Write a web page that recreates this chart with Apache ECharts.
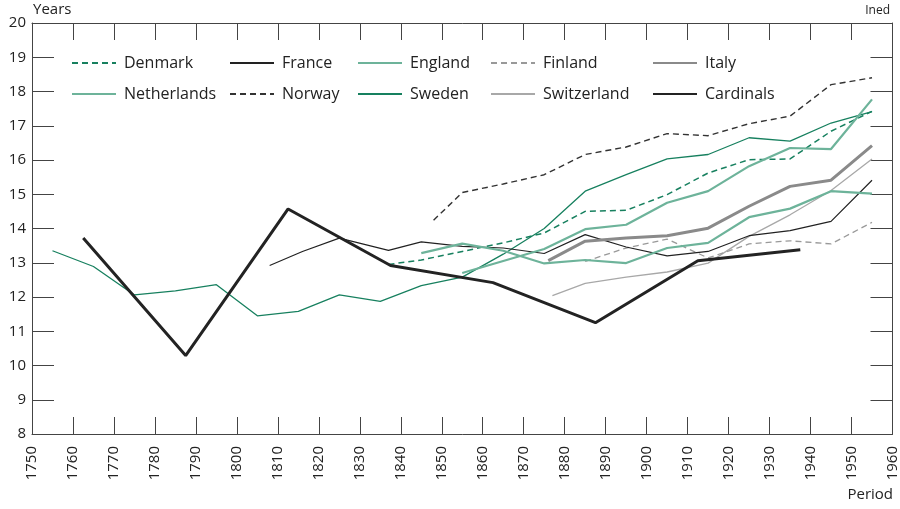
<!doctype html>
<html lang="en">
<head>
    <meta charset="UTF-8">
    <title>Life expectancy</title>
    <script src="https://cdn.jsdelivr.net/npm/echarts@6/dist/echarts.min.js"></script>
    <style>
        html, body { margin: 0; padding: 0; background: #fff; }
    </style>
</head>
<body>
<div id="main" style="width:900px; height:509px;"></div>

<script>
    // data (x = period midpoint, y = years)
    var swedenYears = [1755, 1765, 1775, 1785, 1795, 1805, 1815, 1825, 1835, 1845, 1855, 1865, 1875, 1885, 1895, 1905, 1915, 1925, 1935, 1945, 1955];
    var swedenVals = [13.35, 12.89, 12.06, 12.18, 12.36, 11.45, 11.58, 12.06, 11.87, 12.33, 12.58, 13.25, 14.0, 15.09, 15.57, 16.03, 16.16, 16.65, 16.55, 17.08, 17.41];

    var denmarkYears = [1837, 1845, 1855, 1865, 1875, 1885, 1895, 1905, 1915, 1925, 1935, 1945, 1955];
    var denmarkVals = [12.95, 13.08, 13.33, 13.58, 13.87, 14.50, 14.53, 14.99, 15.62, 16.01, 16.03, 16.84, 17.42];

    var franceYears = [1808, 1816, 1825, 1837, 1845, 1855, 1865, 1875, 1885, 1895, 1905, 1915, 1925, 1935, 1945, 1955];
    var franceVals = [12.92, 13.33, 13.72, 13.36, 13.61, 13.48, 13.43, 13.27, 13.82, 13.46, 13.20, 13.33, 13.79, 13.94, 14.21, 15.41];

    var englandYears = [1845, 1855, 1865, 1875, 1885, 1895, 1905, 1915, 1925, 1935, 1945, 1955];
    var englandVals = [13.28, 13.56, 13.35, 12.98, 13.08, 12.99, 13.43, 13.58, 14.33, 14.58, 15.09, 15.02];

    var netherlandsYears = [1855, 1865, 1875, 1885, 1895, 1905, 1915, 1925, 1935, 1945, 1955];
    var netherlandsVals = [12.70, 13.05, 13.40, 13.98, 14.11, 14.75, 15.09, 15.82, 16.35, 16.32, 17.77];

    var finlandYears = [1885, 1895, 1905, 1915, 1925, 1935, 1945, 1955];
    var finlandVals = [13.04, 13.43, 13.69, 13.14, 13.55, 13.64, 13.55, 14.18];

    var italyYears = [1876, 1885, 1895, 1905, 1915, 1925, 1935, 1945, 1955];
    var italyVals = [13.06, 13.63, 13.72, 13.79, 14.01, 14.65, 15.23, 15.41, 16.42];

    var norwayYears = [1848, 1855, 1865, 1875, 1885, 1895, 1905, 1915, 1925, 1935, 1945, 1955];
    var norwayVals = [14.24, 15.05, 15.30, 15.57, 16.16, 16.38, 16.77, 16.71, 17.06, 17.28, 18.20, 18.40];

    var switzerlandYears = [1877, 1885, 1895, 1905, 1915, 1925, 1935, 1945, 1955];
    var switzerlandVals = [12.04, 12.40, 12.58, 12.73, 12.99, 13.77, 14.40, 15.11, 16.03];

    var cardinalsYears = [1762.5, 1787.5, 1812.5, 1837.5, 1862.5, 1887.5, 1912.5, 1937.5];
    var cardinalsVals = [13.72, 10.29, 14.57, 12.92, 12.42, 11.25, 13.06, 13.38];

    var legendColumns = [
        ['Denmark', 'Netherlands'],
        ['France', 'Norway'],
        ['England', 'Sweden'],
        ['Finland', 'Switzerland'],
        ['Italy', 'Cardinals']
    ];
    var legendLefts = [71, 229, 357, 490, 652];

    var FONT = '"Open Sans", "Noto Sans", sans-serif';
    var DARK_GREEN = '#17805f';
    var LIGHT_GREEN = '#6db39a';

    function pairs(xs, ys) {
        var out = [];
        for (var i = 0; i < xs.length; i++) out.push([xs[i], ys[i]]);
        return out;
    }

    function line(name, xs, ys, color, width, type) {
        return {
            name: name,
            type: 'line',
            symbol: 'none',
            data: pairs(xs, ys),
            color: color,
            lineStyle: {color: color, width: width, type: type || 'solid'},
            itemStyle: {color: color, opacity: 0},
            emphasis: {disabled: true}
        };
    }

    var legends = legendColumns.map(function (col, i) {
        return {
            orient: 'vertical',
            left: legendLefts[i],
            top: 55,
            itemWidth: 44,
            itemHeight: 14,
            itemGap: 15,
            padding: 0,
            selectedMode: false,
            data: col,
            itemStyle: {opacity: 0},
            textStyle: {fontFamily: FONT, fontSize: 16, color: '#222', padding: [0, 0, 0, 3]}
        };
    });

    var axisLine = {show: true, lineStyle: {color: '#444', width: 1}};

    var myChart = echarts.init(document.getElementById('main'));
    myChart.setOption({
        animation: false,
        backgroundColor: '#fff',
        grid: {left: 32, right: 6, top: 23, bottom: 75, containLabel: false},
        legend: legends,
        xAxis: [{
            type: 'value',
            position: 'bottom',
            min: 1750, max: 1960, interval: 10,
            axisLine: axisLine,
            axisTick: {inside: true, length: 17, lineStyle: {color: '#444'}},
            axisLabel: {
                rotate: 90, margin: 12,
                fontFamily: FONT, fontSize: 15, color: '#222',
                formatter: function (v) { return String(v); }
            },
            splitLine: {show: false}
        }, {
            type: 'value',
            position: 'top',
            min: 1750, max: 1960, interval: 10,
            axisLine: axisLine,
            axisTick: {inside: true, length: 17, lineStyle: {color: '#444'}},
            axisLabel: {show: false},
            splitLine: {show: false}
        }],
        yAxis: [{
            type: 'value',
            position: 'left',
            min: 8, max: 20, interval: 1,
            axisLine: axisLine,
            axisTick: {inside: true, length: 22, lineStyle: {color: '#444'}},
            axisLabel: {margin: 6, fontFamily: FONT, fontSize: 15, color: '#222'},
            splitLine: {show: false}
        }, {
            type: 'value',
            position: 'right',
            min: 8, max: 20, interval: 1,
            axisLine: axisLine,
            axisTick: {inside: true, length: 22, lineStyle: {color: '#444'}},
            axisLabel: {show: false},
            splitLine: {show: false}
        }],
        graphic: [
            {type: 'text', left: 33, top: 2, style: {text: 'Years', font: '15px ' + FONT, fill: '#222'}},
            {type: 'text', right: 10, top: 5, style: {text: 'Ined', font: '12px ' + FONT, fill: '#222'}},
            {type: 'text', right: 7, top: 487, style: {text: 'Period', font: '15px ' + FONT, fill: '#222'}}
        ],
        series: [
            line('Sweden', swedenYears, swedenVals, DARK_GREEN, 1.3),
            line('Switzerland', switzerlandYears, switzerlandVals, '#a8a8a8', 1.3),
            line('Finland', finlandYears, finlandVals, '#999', 1.3, [6, 4]),
            line('France', franceYears, franceVals, '#222', 1.2),
            line('Norway', norwayYears, norwayVals, '#333', 1.4, [6, 4]),
            line('Denmark', denmarkYears, denmarkVals, DARK_GREEN, 1.5, [6, 4]),
            line('England', englandYears, englandVals, LIGHT_GREEN, 2.2),
            line('Netherlands', netherlandsYears, netherlandsVals, LIGHT_GREEN, 2.2),
            line('Italy', italyYears, italyVals, '#8a8a8a', 3),
            line('Cardinals', cardinalsYears, cardinalsVals, '#232323', 3)
        ]
    });
</script>
</body>
</html>
